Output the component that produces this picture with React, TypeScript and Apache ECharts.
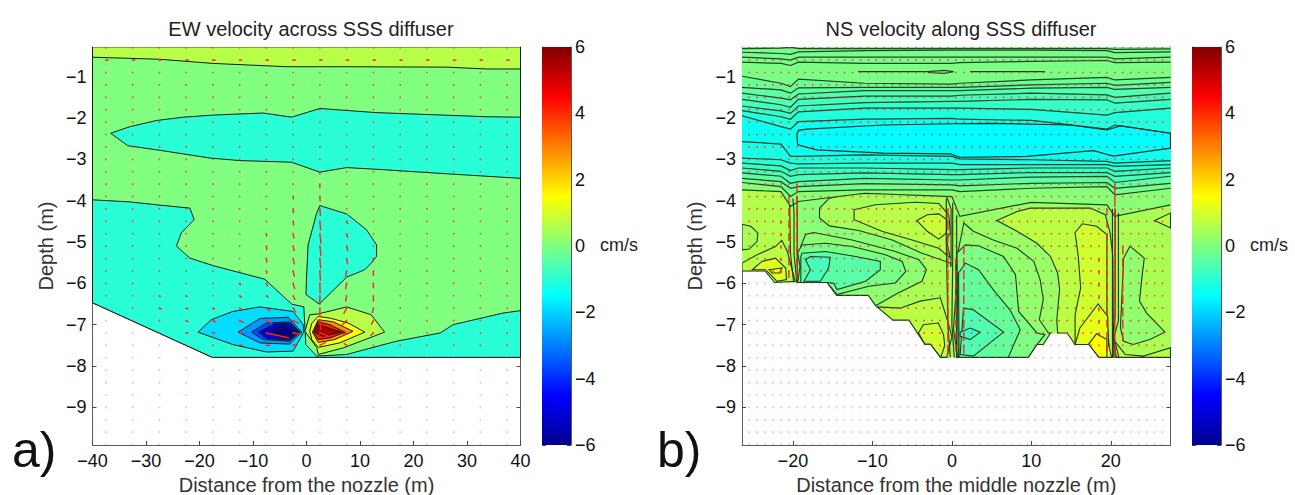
import React, { useEffect, useRef } from "react";
import * as echarts from "echarts";

type Pt = [number, number];
type Poly = [number, Pt[]];

const FONT = "'Liberation Sans', Arial, sans-serif";
const Y_TICKS = [-9, -8, -7, -6, -5, -4, -3, -2, -1];
const X_TICKS_B = [-20, -10, 0, 10, 20];
const BAR_STOPS: [number, string][] = [[0, "#00008f"], [0.125, "#0000ff"], [0.375, "#00ffff"], [0.625, "#ffff00"], [0.875, "#ff0000"], [1, "#800000"]];
const DEPTH_ROWS = [-0.3, -0.6, -0.9, -1.2, -1.5, -1.8, -2.1, -2.4, -2.7, -3, -3.3, -3.6, -3.9, -4.2, -4.5, -4.8, -5.1, -5.4, -5.7, -6, -6.3, -6.6, -6.9, -7.2, -7.5, -7.8, -8.1, -8.4, -8.7, -9, -9.3, -9.6, -9.9];
const X_DOTS_A = [-37.5, -32.5, -27.5, -22.5, -17.5, -12.5, -7.5, -2.5, 2.5, 7.5, 12.5, 17.5, 22.5, 27.5, 32.5, 37.5];
const X_DOTS_B = [-25.5, -24.5, -23.5, -22.5, -21.5, -20.5, -19.5, -18.5, -17.5, -16.5, -15.5, -14.5, -13.5, -12.5, -11.5, -10.5, -9.5, -8.5, -7.5, -6.5, -5.5, -4.5, -3.5, -2.5, -1.5, -0.5, 0.5, 1.5, 2.5, 3.5, 4.5, 5.5, 6.5, 7.5, 8.5, 9.5, 10.5, 11.5, 12.5, 13.5, 14.5, 15.5, 16.5, 17.5, 18.5, 19.5, 20.5, 21.5, 22.5, 23.5, 24.5, 25.5, 26.5];

// Panel a: filled contour regions [velocity, outline in (m, m)]
const WATER_A: Pt[] = [[-40, -0.28], [40, -0.28], [40, -7.79], [-17.6, -7.79], [-40, -6.47]];
const TOP_A: Pt[] = [[-40, -0.28], [40, -0.28], [40, -0.815], [33.7, -0.815], [26.2, -0.77], [6.8, -0.76], [-3.7, -0.76], [-17.5, -0.68], [-27.4, -0.58], [-40, -0.53]];
const MID_A: Pt[] = [[-36.6, -2.37], [-33, -2.21], [-28, -2.06], [-23, -1.98], [-17.5, -1.93], [-8.1, -1.88], [-2.8, -1.98], [2.5, -1.77], [13, -1.87], [25.5, -1.93], [33.7, -1.97], [40, -1.98], [40, -3.46], [26.2, -3.35], [13, -3.24], [7.5, -3.2], [2.5, -3.31], [-2.8, -3.07], [-12.5, -3.03], [-18, -2.97], [-23, -2.87], [-28, -2.77], [-33.4, -2.67]];
const LOW_A: Pt[] = [[-40, -3.98], [-33, -4.03], [-28, -4.1], [-21.8, -4.18], [-21, -4.46], [-23.4, -4.78], [-24.3, -5.1], [-21.8, -5.39], [-17.5, -5.57], [-7.8, -5.9], [-2.8, -6.5], [-0.5, -6.57], [-0.13, -7.48], [1.9, -7.76], [7.5, -7.72], [16.8, -7.4], [25, -7.2], [27.4, -7], [36.7, -6.72], [40, -6.66], [40, -7.79], [-17.6, -7.79], [-40, -6.47]];
const BLOB_A: Pt[] = [[2.5, -4.12], [7.5, -4.32], [11.2, -4.7], [13.1, -5.07], [13.1, -5.35], [12.1, -5.51], [10.9, -5.67], [7.5, -5.85], [2.4, -6.5], [-0.1, -6.27], [0, -5.87], [0.3, -5.07], [1.9, -4.3]];
const POLYS_A: Poly[] = [
  [0, WATER_A], [0.66, TOP_A], [-1.03, MID_A], [-1.03, LOW_A], [-1.03, BLOB_A],
  [-1.9, [[-20.3, -7.18], [-17.8, -6.88], [-13.8, -6.68], [-8.7, -6.57], [-2.5, -6.68], [-0.6, -7], [-0.5, -7.18], [-2.5, -7.64], [-7.5, -7.66], [-13.8, -7.48]]],
  [-2.7, [[-12.8, -7.18], [-8.7, -6.85], [-3.4, -6.82], [-0.9, -7.18], [-3.1, -7.47], [-8.7, -7.44]]],
  [-3.6, [[-10.3, -7.18], [-7.5, -6.96], [-3.1, -6.93], [-1.2, -7.18], [-3.1, -7.4], [-8.1, -7.36]]],
  [-4.6, [[-9, -7.18], [-6, -6.98], [-3, -6.97], [-1.4, -7.18], [-3.2, -7.37], [-7.5, -7.33]]],
  [-5.25, [[-8.1, -7.18], [-4.4, -7], [-1.6, -7.18], [-3.7, -7.36]]],
  [-5.9, [[-6.5, -7.18], [-3.8, -7.05], [-1.9, -7.18], [-3.5, -7.3]]],
  [0.66, [[7.5, -6.57], [12.1, -6.76], [14.6, -7.18], [6.9, -7.56], [2.2, -7.72], [1.9, -7.55], [-0.3, -7.16], [0.6, -6.76], [2.2, -6.74]]],
  [1.5, [[2.2, -6.8], [4.4, -6.84], [7.8, -6.96], [10.9, -7.18], [6.2, -7.44], [2.2, -7.55], [1, -7.36], [0.6, -7.16], [1, -6.96]]],
  [2.8, [[2.2, -6.88], [5, -6.93], [8.7, -7.16], [5.3, -7.36], [2.2, -7.43], [1.1, -7.18]]],
  [4.2, [[2.2, -6.93], [4.4, -7], [7.2, -7.18], [4.4, -7.32], [2.2, -7.36], [1.3, -7.18]]],
  [5.5, [[2.2, -7], [6.5, -7.18], [3, -7.28], [1.5, -7.18]]],
];

// Panel a: velocity arrows [x, depth, dx, dDepth]
const ARROWS_A: [number, number, number, number][] = [
  [-37.5, -0.6, 0.5, 0], [-32.5, -0.6, 0.5, 0], [-27.5, -0.6, 0.5, 0], [-22.5, -0.6, 0.5, 0], [-17.5, -0.6, 0.5, 0], [-12.5, -0.6, 0.5, 0], [-7.5, -0.6, 0.5, 0], [-2.5, -0.6, 0.5, 0], [2.5, -0.6, 0.5, 0], [7.5, -0.6, 0.5, 0], [12.5, -0.6, 0.5, 0], [17.5, -0.6, 0.5, 0], [22.5, -0.6, 0.5, 0], [27.5, -0.6, 0.5, 0], [32.5, -0.6, 0.5, 0], [37.5, -0.6, 0.5, 0],
  [2.5, -3.3, 0, -0.07], [2.5, -3.6, 0, -0.1], [2.5, -3.9, 0.05, -0.12], [2.5, -4.2, 0.1, -0.17], [2.5, -4.5, 0.15, -0.22], [2.5, -4.8, 0.2, -0.24], [2.5, -5.1, 0.2, -0.24], [2.5, -5.4, 0.15, -0.24], [2.5, -5.7, 0.1, -0.24], [2.5, -6, 0.05, -0.24], [2.5, -6.3, 0, -0.22], [2.5, -6.6, 0, -0.22], [2.5, -6.9, 0.2, -0.22], [2.5, -7.2, 1.5, -0.07], [2.5, -7.5, 1.1, 0.07],
  [-2.5, -3.9, 0.05, -0.07], [-2.5, -4.2, 0.08, -0.1], [-2.5, -4.5, 0.1, -0.1], [-2.5, -4.8, 0.15, -0.12], [-2.5, -5.1, 0.2, -0.12], [-2.5, -5.4, 0.25, -0.14], [-2.5, -5.7, 0.25, -0.14], [-2.5, -6, 0.3, -0.14], [-2.5, -6.3, 0.35, -0.1], [-2.5, -6.6, 0.55, -0.1], [-2.5, -6.9, 1.1, -0.07], [-2.5, -7.2, 1.5, -0.03], [-2.5, -7.5, 0.55, 0.03],
  [-7.5, -4.8, 0.05, -0.07], [-7.5, -5.1, 0.08, -0.1], [-7.5, -5.4, 0.08, -0.1], [-7.5, -5.7, 0.1, -0.07], [-7.5, -6, 0.2, -0.07], [-7.5, -6.3, 0.4, -0.05], [-7.5, -6.6, 0.75, -0.07], [-7.5, -6.9, 1.1, -0.07], [-7.5, -7.2, 4.2, -0.12], [-7.5, -7.5, 0.75, 0],
  [-12.5, -6, 0.2, -0.05], [-12.5, -6.3, 0.4, -0.05], [-12.5, -6.6, 0.55, -0.05], [-12.5, -6.9, 0.75, -0.05], [-12.5, -7.2, 0.55, -0.01], [-12.5, -7.5, 0.55, 0],
  [-17.5, -6.6, 0.4, -0.03], [-17.5, -6.9, 0.55, -0.03], [-17.5, -7.2, 0.4, 0], [-22.5, -6.3, 0.2, -0.03], [-22.5, -6.6, 0.4, -0.03], [-22.5, -6.9, 0.4, -0.03], [-22.5, -7.2, 0.4, 0], [-27.5, -6.3, 0.2, -0.03], [-27.5, -6.6, 0.4, -0.03],
  [7.5, -4.5, 0.2, -0.07], [7.5, -4.8, 0.2, -0.1], [7.5, -5.1, 0.2, -0.12], [7.5, -5.4, 0.2, -0.14], [7.5, -5.7, -0.2, -0.14], [7.5, -6, -0.2, -0.14], [7.5, -6.3, -0.2, -0.14], [7.5, -6.6, -0.55, -0.14], [7.5, -6.9, -0.95, -0.12], [7.5, -7.2, -0.75, -0.03], [7.5, -7.5, -0.55, 0.05],
  [12.5, -5.4, 0, -0.07], [12.5, -5.7, 0, -0.12], [12.5, -6, 0, -0.12], [12.5, -6.3, 0, -0.14], [12.5, -6.6, -0.2, -0.12], [12.5, -6.9, -0.4, -0.1], [12.5, -7.2, -0.55, -0.07],
];

// Panel b: depth of the nearly horizontal contour lines at each of these distances
const NODES_B = [-26.4, -21.5, -20.3, -19.3, -11, 0, 1, 10, 19.5, 20.5, 27.5];
const LINE_01 = [-0.32, -0.31, -0.29, -0.32, -0.32, -0.32, -0.32, -0.32, -0.32, -0.34, -0.33];
const LINE_02 = [-0.41, -0.44, -0.46, -0.4, -0.37, -0.36, -0.36, -0.36, -0.37, -0.42, -0.4];
const LINE_03 = [-0.53, -0.57, -0.6, -0.53, -0.53, -0.53, -0.53, -0.53, -0.53, -0.57, -0.53];
const LINE_04 = [-0.65, -0.68, -0.73, -0.65, -0.68, -0.68, -0.66, -0.63, -0.61, -0.66, -0.65];
const LINE_05 = [-0.99, -1.16, -1.24, -1.06, -1.16, -1.18, -1.16, -1.08, -1.02, -1.08, -1.02];
const LINE_06 = [-1.26, -1.32, -1.4, -1.27, -1.26, -1.26, -1.26, -1.2, -1.16, -1.21, -1.14];
const LINE_07 = [-1.4, -1.52, -1.56, -1.42, -1.34, -1.34, -1.34, -1.28, -1.26, -1.31, -1.26];
const LINE_08 = [-1.55, -1.68, -1.74, -1.55, -1.47, -1.47, -1.45, -1.4, -1.44, -1.5, -1.4];
const LINE_09 = [-1.71, -1.83, -1.89, -1.71, -1.63, -1.6, -1.6, -1.55, -1.56, -1.64, -1.55];
const LINE_10 = [-1.82, -1.97, -2.03, -1.85, -1.76, -1.76, -1.76, -1.79, -1.93, -1.87, -1.76];
const LINE_11 = [-1.95, -2.21, -2.27, -2.09, -2.03, -2.01, -2.03, -2.06, -2.27, -2.17, -2.37];
const LINE_12 = [-2.57, -2.63, -2.93, -2.93, -2.89, -2.93, -2.99, -3.01, -3.05, -3.09, -3.03];
const LINE_13 = [-2.97, -3.01, -3.09, -3.11, -3.09, -3.09, -3.13, -3.13, -3.13, -3.17, -3.13];
const LINE_14 = [-3.09, -3.16, -3.27, -3.21, -3.21, -3.25, -3.25, -3.21, -3.21, -3.29, -3.21];
const LINE_15 = [-3.21, -3.29, -3.41, -3.37, -3.33, -3.37, -3.37, -3.32, -3.32, -3.41, -3.32];
const LINE_16 = [-3.33, -3.41, -3.58, -3.54, -3.46, -3.5, -3.5, -3.43, -3.41, -3.56, -3.41];
const LINE_17 = [-3.46, -3.54, -3.7, -3.66, -3.59, -3.62, -3.64, -3.58, -3.56, -3.7, -3.58];
const LINE_18 = [-3.56, -3.66, -3.9, -3.78, -3.74, -3.74, -3.78, -3.7, -3.66, -3.86, -3.7];
const LINE_19 = [-3.74, -3.78, -4.14, -4.02, -3.82, -3.9, -4.38, -4.04, -4.1, -4.38, -4.1];
const LINES_B = [LINE_01, LINE_02, LINE_03, LINE_04, LINE_05, LINE_06, LINE_07, LINE_08, LINE_09, LINE_10, LINE_11, LINE_12, LINE_13, LINE_14, LINE_15, LINE_16, LINE_17, LINE_18, LINE_19];
const BAND_VALUES_B = [-0.2, -0.15, -0.12, -0.1, -0.05, -0.25, -0.4, -0.55, -0.7, -0.85, -1.1, -1.35, -1.2, -1, -0.85, -0.65, -0.4, -0.15, 0.1];

const BED_B: Pt[] = [[-26.4, -5.7], [-23.5, -5.7], [-22.3, -5.98], [-15.7, -5.98], [-14.5, -6.29], [-10.5, -6.29], [-9.4, -6.57], [-7.4, -6.89], [-5.4, -6.89], [-3.4, -7.47], [-2.7, -7.47], [-1.4, -7.79], [9.6, -7.79], [10.7, -7.48], [11.5, -7.48], [12.4, -7.2], [14.5, -7.2], [15.5, -7.48], [17.4, -7.48], [18.5, -7.79], [27.5, -7.79]];
const WATER_B: Pt[] = [[-26.4, -0.28], [27.5, -0.28], ...[...BED_B].reverse()];
const BASE_B: Poly[] = [
  [0.5, WATER_B],
  [0.6, [[-26.4, -3.7], [-21.5, -3.7], [-20.3, -4.14], [-20.1, -5.35], [-20, -5.98], [-22.3, -5.98], [-23.5, -5.7], [-26.4, -5.7]]],
  [0.1, [[-19.3, -3.9], [-0.3, -3.9], [-0.3, -7.79], [-1.4, -7.79], [-2.7, -7.47], [-3.4, -7.47], [-5.4, -6.89], [-7.4, -6.89], [-9.4, -6.57], [-10.5, -6.29], [-14.5, -6.29], [-15.7, -5.98], [-19.3, -5.98]]],
  [0.5, [[-3.75, -5.27], [-0.2, -5.51], [-0.3, -7.79], [-1.4, -7.79], [-2.7, -7.47], [-3.4, -7.47], [-5.4, -6.89], [-7.4, -6.89], [-9.4, -6.57], [-6.7, -6.23], [-3.75, -5.95], [-3.2, -5.67]]],
  [0.3, [[0.3, -3.9], [20.3, -3.9], [20.3, -7.79], [18.5, -7.79], [17.4, -7.48], [15.5, -7.48], [14.5, -7.2], [12.4, -7.2], [11.5, -7.48], [10.7, -7.48], [9.6, -7.79], [0.3, -7.79]]],
  [0.5, [[20.5, -4], [27.5, -4], [27.5, -7.79], [20.5, -7.79]]],
];
const POLYS_B: Poly[] = [
  [0.7, [[-26.4, -5.51], [-24.5, -5.31], [-22.2, -5.11], [-21.4, -4.96], [-20.7, -5.23], [-20.1, -5.67], [-19.7, -5.95], [-22.3, -5.98], [-23.5, -5.7], [-26.4, -5.7]]],
  [0.45, [[-26.4, -4.57], [-25.3, -4.62], [-24.4, -4.78], [-24.5, -4.99], [-25.5, -5.17], [-26.4, -5.19]]],
  [1.1, [[-25.1, -5.67], [-23.9, -5.47], [-22.2, -5.39], [-20.9, -5.63], [-20.8, -5.91], [-22, -5.95], [-22.8, -5.79], [-23.45, -5.67]]],
  [1.45, [[-23, -5.67], [-21.35, -5.63], [-21.7, -5.75], [-22.6, -5.75]]],
  [0.45, [[-16.65, -4.18], [-15.4, -3.94], [-12.55, -3.83], [-0.8, -3.82], [-0.1, -4.2], [-0.1, -5.6], [-0.2, -5.51], [-3.75, -5.27], [-7.5, -4.95], [-11.7, -4.72], [-15.4, -4.61], [-16.65, -4.42]]],
  [0.65, [[-12.3, -4.22], [-9.6, -4.1], [-4.6, -4.04], [-1.65, -4.07], [-0.4, -4.34], [-0.2, -4.78], [-0.7, -4.95], [-0.2, -5.39], [-1.65, -5.15], [-5, -4.95], [-8.8, -4.74], [-12.3, -4.46]]],
  [0.85, [[-4.4, -4.48], [-3.1, -4.34], [-1.65, -4.32], [-0.6, -4.46], [-0.7, -4.78], [-1.65, -4.93], [-3.1, -4.74]]],
  [0.15, [[-19, -5.1], [-18.4, -4.82], [-17.4, -4.77], [-12.55, -4.95], [-7.1, -5.23], [-4.15, -5.43], [-3.2, -5.67], [-3.75, -5.95], [-6.7, -6.23], [-9.6, -6.54], [-10.5, -6.29], [-14.5, -6.29], [-15.7, -5.98], [-19, -5.98]]],
  [-0.1, [[-19.45, -5.27], [-18.85, -5.07], [-15.9, -5.03], [-12.55, -5.11], [-8.35, -5.31], [-6.25, -5.47], [-5.8, -5.71], [-7.1, -5.99], [-10.45, -6.07], [-14.45, -6.27], [-15.7, -5.98], [-19.45, -5.98]]],
  [-0.45, [[-19, -5.35], [-18.85, -5.27], [-15.9, -5.23], [-12.1, -5.35], [-9, -5.47], [-9, -5.67], [-10.85, -5.95], [-14.45, -6.15], [-14.85, -6], [-15.7, -5.98], [-19, -5.98]]],
  [-0.7, [[-18.4, -5.43], [-17.8, -5.35], [-15.3, -5.37], [-15.5, -5.63], [-16.55, -5.95], [-18.6, -5.95], [-17.8, -5.67]]],
  [0.7, [[-9.4, -6.57], [-6.5, -6.6], [-4, -6.43], [-1.45, -6.35], [-0.55, -6.9], [0, -7.3], [-0.65, -7.79], [-1.4, -7.79], [-2.7, -7.47], [-3.4, -7.47], [-5.4, -6.89], [-7.4, -6.89]]],
  [0.95, [[-4.2, -7.2], [-3.6, -7], [-1.7, -6.96], [-1.05, -7.24], [-0.9, -7.5], [-1.4, -7.79], [-2.7, -7.47], [-3.4, -7.47]]],
  [0.7, [[5.66, -4.48], [8.2, -4.26], [9.85, -4.18], [17.4, -4.18], [19.3, -4.34], [19.9, -4.78], [20.25, -5.35], [20.3, -6.88], [20.3, -7.79], [18.5, -7.79], [17.4, -7.48], [15.5, -7.48], [14.5, -7.2], [13.3, -7.2], [13.2, -6.88], [13.55, -6.15], [13.3, -5.75], [12.4, -5.35], [10.7, -5.03], [8.2, -4.74]]],
  [0.95, [[15.5, -4.77], [16.4, -4.56], [18.2, -4.62], [19.5, -4.82], [19.5, -5.75], [19.5, -6.88], [19.9, -7.79], [18.5, -7.79], [17.4, -7.48], [15.5, -7.48], [15.5, -6.76], [16.2, -6.11], [15.9, -5.35]]],
  [1.2, [[16.1, -7.08], [18.4, -6.5], [19.6, -6.8], [19.7, -7.48], [20.1, -7.79], [18.5, -7.79], [17.4, -7.48], [15.5, -7.48]]],
  [1.45, [[17.2, -7.47], [18.2, -7.22], [19.5, -7.36], [19.5, -7.79], [18.5, -7.79]]],
  [0.2, [[1.5, -4.54], [2.7, -4.74], [5.2, -4.95], [8.2, -5.15], [10.3, -5.47], [11.1, -5.91], [11.5, -6.39], [11, -6.88], [12.15, -7.2], [12.4, -7.2], [11.5, -7.48], [10.7, -7.48], [9.6, -7.79], [0.6, -7.79], [0.5, -5.5]]],
  [-0.05, [[0.63, -5.27], [1.7, -5.07], [3.35, -5.09], [6.5, -5.35], [8, -5.79], [8.4, -6.68], [10.7, -7.2], [11.7, -7.24], [10.7, -7.48], [9.6, -7.79], [0.8, -7.79]]],
  [-0.35, [[0.84, -5.75], [1.7, -5.51], [3.35, -5.67], [5.2, -6.15], [7.3, -6.64], [8.6, -7.12], [7.1, -7.79], [0.9, -7.79]]],
  [-0.6, [[1.46, -6.6], [2.7, -6.64], [6.5, -7.18], [2.7, -7.76], [1.04, -7.72]]],
  [-0.85, [[1.04, -7.18], [2.3, -7.08], [3.55, -7.18], [2.3, -7.36], [1.04, -7.28]]],
  [0.2, [[21.6, -5.39], [22.4, -5.1], [24.2, -5.39], [23.9, -5.87], [23.6, -6.43], [24.5, -6.72], [26.8, -7.18], [24.9, -7.36], [22.8, -7.48], [21.6, -7.4], [21.2, -7.08], [21.4, -6.27]]],
  [0.7, [[25.5, -4.48], [27.5, -4.3], [27.5, -4.66]]],
  [0.7, [[20.5, -7.4], [21.8, -7.72], [24.1, -7.76], [27.5, -7.56], [27.5, -7.79], [20.5, -7.79]]],
];
const CORE_B: Pt[] = [[-19.5, -2.4], [-19.3, -2.3], [-18.25, -2.27], [-8.6, -2.17], [0, -2.14], [5.2, -2.13], [14.9, -2.17], [19.5, -2.29], [21.2, -2.19], [27.5, -2.37], [27.5, -2.73], [20.3, -2.92], [17.8, -2.79], [9.4, -2.93], [1, -2.95], [-0.2, -2.87], [-8.6, -2.85], [-17, -2.77], [-19.4, -2.65]];
const CORE_VALUE_B = -1.5;
const EXTRA_LINES_B: Pt[][] = [
  [[-20, -3.95], [-19.85, -4.3], [-19.85, -5.3], [-19.5, -5.98]],
  [[-19.5, -3.9], [-19.45, -4.3], [-19.45, -5.2], [-19.1, -5.6], [-19.4, -5.98]],
  [[-20.4, -4.1], [-20.3, -5.3], [-19.9, -5.98]],
  [[-0.7, -3.95], [-0.7, -5], [-0.5, -7], [-0.2, -7.79]],
  [[0.1, -4.05], [0.1, -5.5], [0, -7], [0.3, -7.79]],
  [[0.6, -4.35], [0.6, -6], [0.2, -7.1], [0.7, -7.79]],
  [[20.2, -4.2], [20.2, -7.79]],
  [[20.55, -4.2], [20.55, -6.8], [20.2, -7.3], [20.7, -7.79]],
  [[20.95, -4.3], [20.95, -6.9], [20.4, -7.3], [21, -7.79]],
  [[-11.8, -0.88], [-3, -0.88], [-1, -0.85], [0.2, -0.88]],
  [[-3, -0.9], [-1, -0.92], [0.2, -0.88]],
  [[2.3, -0.88], [11.7, -0.88]],
];
const ARROW_COLUMNS_B: { x: number; depths: number[]; len: number }[] = [
  { x: -20.5, depths: [-3.9, -4.2, -4.5, -4.8, -5.1, -5.4, -5.7], len: 0.17 },
  { x: -19.5, depths: [-3.6, -3.9, -4.2, -4.5, -4.8, -5.1, -5.4, -5.7], len: 0.2 },
  { x: -0.5, depths: [-4.2, -4.5, -4.8, -5.1, -5.4, -5.7, -6, -6.3, -6.6, -6.9, -7.2, -7.5], len: 0.22 },
  { x: 0.5, depths: [-5.4, -5.7, -6, -6.3, -6.6, -6.9, -7.2, -7.5], len: 0.14 },
  { x: 1.5, depths: [-5.1, -5.4, -5.7, -6, -6.3, -6.6, -6.9, -7.2, -7.5], len: 0.2 },
  { x: 19.5, depths: [-4.2, -4.5, -4.8, -5.1, -5.4, -5.7, -6, -6.3, -6.6, -6.9, -7.2, -7.5], len: 0.16 },
  { x: 20.5, depths: [-3.6, -3.9, -4.2, -4.5, -4.8, -5.1, -5.4, -5.7, -6, -6.3, -6.6, -6.9, -7.2, -7.5], len: 0.25 },
  { x: 21.5, depths: [-5.1, -5.4, -5.7, -6, -6.3, -6.6, -6.9, -7.2], len: 0.2 },
  { x: -21.5, depths: [-4.5, -4.8, -5.1, -5.4, -5.7], len: 0.06 },
  { x: 18.5, depths: [-5.4, -5.7, -6, -6.3, -6.6, -6.9, -7.2], len: 0.08 },
];

function jet(v: number): string {
  const t = (v + 6) / 12;
  const c = (o: number) => Math.round(255 * Math.max(0, Math.min(1, 1.5 - Math.abs(4 * t - o))));
  return `rgb(${c(3)},${c(2)},${c(1)})`;
}

function inside(p: Pt, poly: Pt[]): boolean {
  let hit = false;
  for (let i = 0, j = poly.length - 1; i < poly.length; j = i++) {
    const [xi, yi] = poly[i], [xj, yj] = poly[j];
    if (yi > p[1] !== yj > p[1] && p[0] < ((xj - xi) * (p[1] - yi)) / (yj - yi) + xi) hit = !hit;
  }
  return hit;
}

const minus = (v: number) => String(v).replace("-", "\u2212");
const AXIS_LINE = { lineStyle: { color: "#5a5a5a", width: 1 } };
const TICK = { inside: true, length: 4, lineStyle: { color: "#444", width: 1 } };
const LABEL = { color: "#111", fontSize: 18, fontFamily: FONT, formatter: minus };
const NAME = { color: "#333", fontSize: 20, fontFamily: FONT };
const TITLE_STYLE = { color: "#222", fontSize: 20, fontWeight: "normal", fontFamily: FONT };

function polySeries(polys: Poly[], stroke: string | null, width = 1): any {
  return {
    type: "custom", clip: true, silent: true, z: 2,
    data: polys.map((_, i) => [i]),
    renderItem: (params: any, api: any) => {
      const [v, pts] = polys[params.dataIndex];
      return {
        type: "polygon",
        shape: { points: pts.map((p) => api.coord(p)) },
        style: { fill: jet(v), stroke: stroke ?? jet(v), lineWidth: stroke ? width : 0.5 },
      };
    },
  };
}

function lineSeries(lines: Pt[][]): any {
  return {
    type: "custom", clip: true, silent: true, z: 3,
    data: lines.map((_, i) => [i]),
    renderItem: (params: any, api: any) => ({
      type: "polyline",
      shape: { points: lines[params.dataIndex].map((p) => api.coord(p)) },
      style: { fill: "none", stroke: "#16301c", lineWidth: 1.2, opacity: 0.9 },
    }),
  };
}

function dotSeries(xs: number[], water: Pt[]): any[] {
  const wet: Pt[] = [], dry: Pt[] = [];
  xs.forEach((x) => DEPTH_ROWS.forEach((d) => (inside([x, d], water) ? wet : dry).push([x, d])));
  const make = (pts: Pt[], fill: string, opacity: number) => ({
    type: "custom", clip: true, silent: true, z: 4,
    data: pts.map((_, i) => [i]),
    renderItem: (params: any, api: any) => {
      const c = api.coord(pts[params.dataIndex]);
      return { type: "circle", shape: { cx: c[0], cy: c[1], r: 0.95 }, style: { fill, opacity } };
    },
  });
  return [make(wet, "#ff3030", 0.75), make(dry, "#ff6060", 0.42)];
}

function arrowSeries(arrows: number[][]): any {
  return {
    type: "custom", clip: true, silent: true, z: 5,
    data: arrows.map((_, i) => [i]),
    renderItem: (params: any, api: any) => {
      const [x, d, u, w] = arrows[params.dataIndex];
      const a = api.coord([x, d]), b = api.coord([x + u, d + w]);
      return { type: "line", shape: { x1: a[0], y1: a[1], x2: b[0], y2: b[1] }, style: { stroke: "#f4282a", lineWidth: 1.4 } };
    },
  };
}

function colorbarSeries(): any {
  return {
    type: "custom", silent: true, z: 2, data: [[0]],
    renderItem: (_: any, api: any) => {
      const a = api.coord([0, 6]), b = api.coord([1, -6]);
      return {
        type: "rect",
        shape: { x: a[0], y: a[1], width: b[0] - a[0], height: b[1] - a[1] },
        style: { fill: new echarts.graphic.LinearGradient(0, 1, 0, 0, BAR_STOPS.map(([offset, color]) => ({ offset, color }))) },
      };
    },
  };
}

export default function App() {
  const ref = useRef<HTMLDivElement>(null);
  useEffect(() => {
    document.body.style.margin = "0";
    const chart = echarts.init(ref.current!, undefined, { renderer: "svg" });
    const bandPolys: Poly[] = BAND_VALUES_B.map((v, i) => {
      const lower = NODES_B.map((x, k): Pt => [x, LINES_B[i][k]]);
      const upper = i === 0 ? NODES_B.map((x): Pt => [x, -0.28]) : NODES_B.map((x, k): Pt => [x, LINES_B[i - 1][k]]);
      return [v, [...upper, ...lower.reverse()]];
    });
    const bandLines: Pt[][] = LINES_B.map((l) => NODES_B.map((x, k): Pt => [x, l[k]]));
    const arrowsB: number[][] = [];
    ARROW_COLUMNS_B.forEach((c) => c.depths.forEach((d) => arrowsB.push([c.x, d, 0, -c.len])));

    const plotX = (gridIndex: number, min: number, max: number, name: string, custom?: number[]) => [
      {
        type: "value", gridIndex, min, max, position: "bottom", splitLine: { show: false },
        interval: custom ? undefined : 10,
        axisLine: { ...AXIS_LINE, onZero: false },
        axisTick: custom ? { ...TICK, customValues: custom } : TICK,
        axisLabel: custom ? { ...LABEL, margin: 7, customValues: custom } : { ...LABEL, margin: 7 },
        name, nameLocation: "middle", nameGap: 28, nameTextStyle: NAME,
      },
      {
        type: "value", gridIndex, min, max, position: "top", splitLine: { show: false },
        interval: custom ? undefined : 10,
        axisLine: { ...AXIS_LINE, onZero: false },
        axisTick: custom ? { ...TICK, customValues: custom } : TICK,
        axisLabel: { show: false },
      },
    ];
    const plotY = (gridIndex: number) => [
      {
        type: "value", gridIndex, min: -9.91, max: -0.283, position: "left", splitLine: { show: false },
        axisLine: { ...AXIS_LINE, onZero: false },
        axisTick: { ...TICK, customValues: Y_TICKS },
        axisLabel: { ...LABEL, margin: 6, customValues: Y_TICKS },
        name: "Depth (m)", nameLocation: "middle", nameGap: 37, nameRotate: 90, nameTextStyle: NAME,
      },
      {
        type: "value", gridIndex, min: -9.91, max: -0.283, position: "right", splitLine: { show: false },
        axisLine: { ...AXIS_LINE, onZero: false },
        axisTick: { ...TICK, customValues: Y_TICKS },
        axisLabel: { show: false },
      },
    ];
    const barX = (gridIndex: number) => [{ type: "value", gridIndex, min: 0, max: 1, show: false }];
    const barY = (gridIndex: number) => [
      {
        type: "value", gridIndex, min: -6, max: 6, interval: 2, position: "right", splitLine: { show: false },
        axisLine: { ...AXIS_LINE, onZero: false }, axisTick: TICK,
        axisLabel: { ...LABEL, margin: 4 },
      },
      {
        type: "value", gridIndex, min: -6, max: 6, interval: 2, position: "left", splitLine: { show: false },
        axisLine: { ...AXIS_LINE, onZero: false }, axisTick: TICK, axisLabel: { show: false },
      },
    ];

    const xAxis = [...plotX(0, -40, 40, "Distance from the nozzle (m)"), ...plotX(1, -26.4, 27.5, "Distance from the middle nozzle (m)", X_TICKS_B), ...barX(2), ...barX(3)];
    const yAxis = [...plotY(0), ...plotY(1), ...barY(2), ...barY(3)];
    const on = (s: any, x: number, y: number) => ({ ...s, xAxisIndex: x, yAxisIndex: y });

    chart.setOption({
      animation: false,
      backgroundColor: "#fff",
      title: [
        { text: "EW velocity across SSS diffuser", left: 306, top: 14, textAlign: "center", textStyle: TITLE_STYLE },
        { text: "NS velocity along SSS diffuser", left: 956, top: 14, textAlign: "center", textStyle: TITLE_STYLE },
      ],
      grid: [
        { left: 92.5, top: 47, width: 428, height: 398, outerBoundsMode: "none" },
        { left: 742, top: 47, width: 428.5, height: 398, outerBoundsMode: "none" },
        { left: 542, top: 47, width: 29, height: 398, outerBoundsMode: "none" },
        { left: 1192, top: 47, width: 29, height: 398, outerBoundsMode: "none" },
      ],
      xAxis, yAxis,
      series: [
        on(polySeries(POLYS_A, "#141c18", 1), 0, 0),
        ...dotSeries(X_DOTS_A, WATER_A).map((s) => on(s, 0, 0)),
        on(arrowSeries(ARROWS_A), 0, 0),
        on(polySeries(BASE_B, null), 2, 2),
        on(polySeries(POLYS_B, "#1c3a20", 1.1), 2, 2),
        on(polySeries(bandPolys, null), 2, 2),
        on(polySeries([[CORE_VALUE_B, CORE_B]], "#16301c", 1.2), 2, 2),
        on(lineSeries(bandLines), 2, 2),
        on(lineSeries(EXTRA_LINES_B), 2, 2),
        ...dotSeries(X_DOTS_B, WATER_B).map((s) => on(s, 2, 2)),
        on(arrowSeries(arrowsB), 2, 2),
        on(colorbarSeries(), 4, 4),
        on(colorbarSeries(), 5, 6),
      ],
      graphic: [
        { type: "text", left: 600, top: 236, style: { text: "cm/s", fontSize: 18, fontFamily: FONT, fill: "#222" } },
        { type: "text", left: 1250, top: 236, style: { text: "cm/s", fontSize: 18, fontFamily: FONT, fill: "#222" } },
        { type: "text", left: 12, top: 425, style: { text: "a)", fontSize: 50, fontFamily: FONT, fill: "#111" } },
        { type: "text", left: 657, top: 425, style: { text: "b)", fontSize: 50, fontFamily: FONT, fill: "#111" } },
      ],
    });
    return () => chart.dispose();
  }, []);
  return <div ref={ref} style={{ width: 1295, height: 495 }} />;
}
